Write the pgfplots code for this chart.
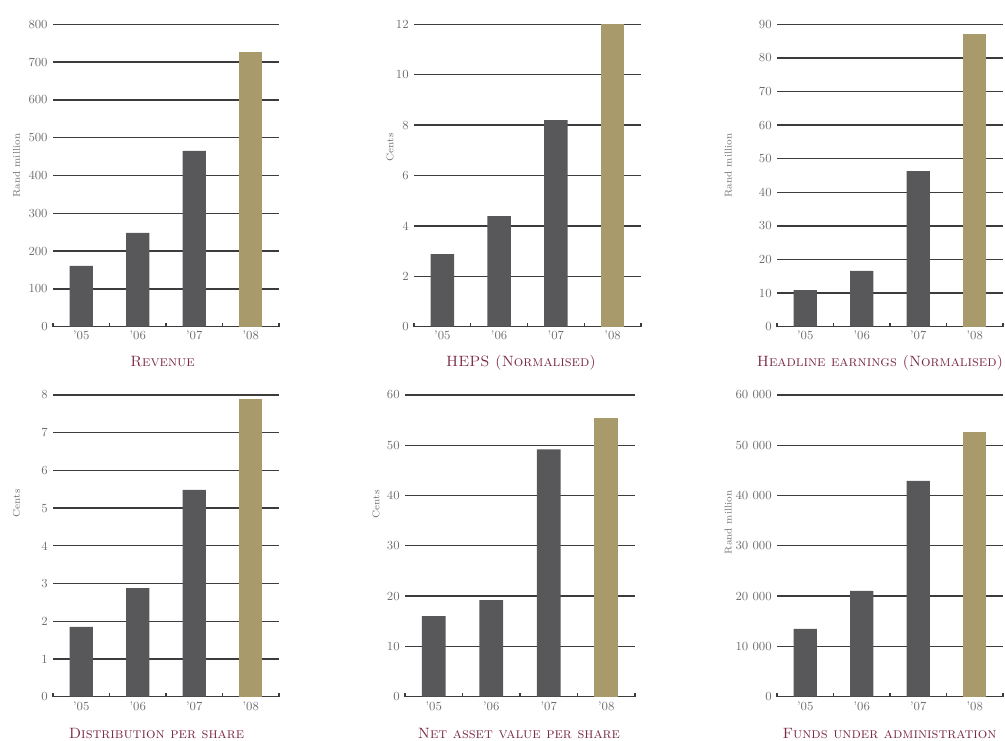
\documentclass[border=0pt]{standalone}
\usepackage{pgfplots}
\pgfplotsset{compat=1.18}
\definecolor{bardark}{HTML}{58585A}
\definecolor{bargold}{HTML}{A99A6B}
\definecolor{gridc}{HTML}{3C3C3C}
\definecolor{tickc}{HTML}{6E6E6E}
\definecolor{titlec}{HTML}{7B2846}
\pgfplotsset{
  panel/.style={
    scale only axis,
    anchor=south west,
    xmin=-0.5, xmax=3.5, ymin=0,
    axis x line*=bottom, axis y line*=left,
    y axis line style={draw=none},
    x axis line style={draw=gridc, line width=1pt},
    ymajorgrids, grid style={draw=gridc, line width=1pt},
    major tick length=0pt,
    xtick={0,1,2,3}, xticklabels={'05,'06,'07,'08},
    minor xtick={-0.5,0.5,1.5,2.5,3.5},
    minor tick length=3pt,
    tick align=inside,
    minor tick style={draw=gridc, line width=1pt},
    ticklabel style={font=\fontsize{9.3}{11}\selectfont, text=tickc},
    yticklabel style={xshift=-0.5pt},
    scaled y ticks=false,
    /pgf/number format/assume math mode=true,
    clip=false,
  },
  dk/.style={ybar, bar width=0.41, fill=bardark, draw=none},
  gd/.style={ybar, bar width=0.41, fill=bargold, draw=none},
}
\tikzset{
  ylab/.style={rotate=90, anchor=east, inner sep=0pt, font=\fontsize{7.4}{8}\selectfont, text=tickc},
  ttl/.style={anchor=base, font=\fontsize{11.2}{13}\selectfont, text=titlec},
}
\begin{document}
\begin{tikzpicture}
\useasboundingbox (0,0) rectangle (753.75pt,-555pt);
% Revenue
\begin{axis}[panel, at={(39.75pt,-245pt)}, width=169.5pt, height=226.8pt,
  ymax=800, ytick={0,100,...,800}]
\addplot[dk] coordinates {(0,161) (1,248) (2,465)};
\addplot[gd] coordinates {(3,727)};
\node[ylab] at (axis description cs:-0.1615,0.64) {Rand million};
\node[ttl] at (axis description cs:0.4845,-0.1323) {\textsc{Revenue}};
\end{axis}
% HEPS
\begin{axis}[panel, at={(310.5pt,-245pt)}, width=170.25pt, height=226.8pt,
  ymax=12, ytick={0,2,...,12}]
\addplot[dk] coordinates {(0,2.88) (1,4.39) (2,8.2)};
\addplot[gd] coordinates {(3,12.0)};
\node[ylab] at (axis description cs:-0.106,0.64) {Cents};
\node[ttl] at (axis description cs:0.4714,-0.1323) {\textsc{HEPS (Normalised)}};
\end{axis}
% Headline earnings
\begin{axis}[panel, at={(582.75pt,-245pt)}, width=169.5pt, height=226.8pt,
  ymax=90, ytick={0,10,...,90}]
\addplot[dk] coordinates {(0,10.9) (1,16.6) (2,46.3)};
\addplot[gd] coordinates {(3,87.1)};
\node[ylab] at (axis description cs:-0.215,0.64) {Rand million};
\node[ttl] at (axis description cs:0.4558,-0.1323) {\textsc{Headline earnings (Normalised)}};
\end{axis}
% Distribution per share
\begin{axis}[panel, at={(39.75pt,-522.5pt)}, width=169.5pt, height=226.3pt,
  ymax=8, ytick={0,1,...,8}]
\addplot[dk] coordinates {(0,1.85) (1,2.88) (2,5.48)};
\addplot[gd] coordinates {(3,7.9)};
\node[ylab] at (axis description cs:-0.161,0.688) {Cents};
\node[ttl] at (axis description cs:0.458,-0.1379) {\textsc{Distribution per share}};
\end{axis}
% NAV per share
\begin{axis}[panel, at={(303.75pt,-522.5pt)}, width=172.5pt, height=226.3pt,
  ymax=60, ytick={0,10,...,60}]
\addplot[dk] coordinates {(0,16.0) (1,19.2) (2,49.2)};
\addplot[gd] coordinates {(3,55.4)};
\node[ylab] at (axis description cs:-0.126,0.685) {Cents};
\node[ttl] at (axis description cs:0.4957,-0.1379) {\textsc{Net asset value per share}};
\end{axis}
% Funds under administration
\begin{axis}[panel, at={(582.75pt,-522.5pt)}, width=169.5pt, height=226.3pt,
  ymax=60000, ytick={0,10000,...,60000},
  yticklabels={0,10 000,20 000,30 000,40 000,50 000,60 000}]
\addplot[dk] coordinates {(0,13460) (1,21020) (2,42900)};
\addplot[gd] coordinates {(3,52640)};
\node[ylab] at (axis description cs:-0.215,0.685) {Rand million};
\node[ttl] at (axis description cs:0.4978,-0.1379) {\textsc{Funds under administration}};
\end{axis}
\end{tikzpicture}
\end{document}
